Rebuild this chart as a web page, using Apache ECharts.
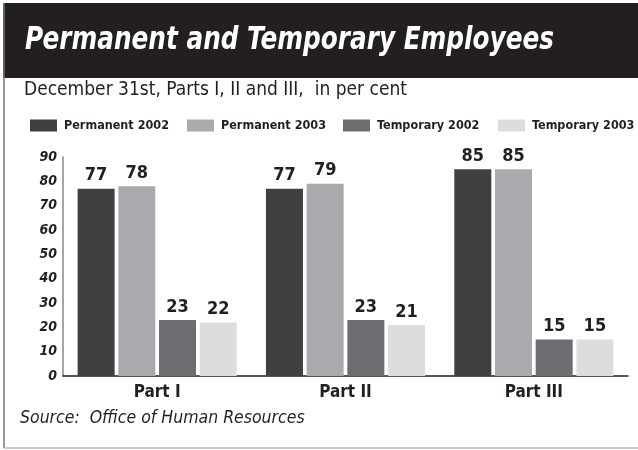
<!DOCTYPE html>
<html>
<head>
<meta charset="utf-8">
<script src="https://cdn.jsdelivr.net/npm/echarts@6/dist/echarts.min.js"></script>
<style>
  html, body { margin: 0; padding: 0; background: #fff; }
  #chart { width: 638px; height: 450px; }
</style>
</head>
<body>
<div id="chart"></div>
<script>
// data
const categories = ['Part I', 'Part II', 'Part III'];
const permanent2002 = [77, 77, 85];
const permanent2003 = [78, 79, 85];
const temporary2002 = [23, 23, 15];
const temporary2003 = [22, 21, 15];
const seriesNames = ['Permanent 2002', 'Permanent 2003', 'Temporary 2002', 'Temporary 2003'];
const yMin = 0, yMax = 90, yStep = 10;

const narrow = '"Liberation Sans Narrow", "DejaVu Sans Condensed", Arial, sans-serif';
const colors = ['#404040', '#a9aaad', '#6c6d71', '#dcdddf'];
const legendLefts = [30, 187, 343, 498];

const chart = echarts.init(document.getElementById('chart'));

const mkSeries = (name, data, i) => ({
  name: name,
  type: 'bar',
  data: data,
  barWidth: 37,
  barGap: '10%',
  itemStyle: { color: colors[i] },
  label: {
    show: true,
    position: 'top',
    distance: 4,
    color: '#231f20',
    fontFamily: narrow,
    fontWeight: 'bold',
    fontSize: 18
  }
});

// one legend per item so each swatch sits where the reference has it
const legends = seriesNames.map((name, i) => ({
  left: legendLefts[i],
  top: 119,
  itemWidth: 27,
  itemHeight: 12,
  icon: 'rect',
  padding: 0,
  data: [name],
  textStyle: { color: '#231f20', fontFamily: narrow, fontWeight: 'bold', fontSize: 12.5, padding: [0, 0, 0, 2] }
}));

chart.setOption({
  animation: false,
  color: colors,
  graphic: [
    { type: 'rect', shape: { x: 3, y: 3, width: 635, height: 75 }, style: { fill: '#231f20' }, z: -1 },
    { type: 'line', shape: { x1: 4, y1: 3, x2: 4, y2: 448 }, style: { stroke: '#777', lineWidth: 1.5 } },
    { type: 'line', shape: { x1: 4, y1: 448, x2: 638, y2: 448 }, style: { stroke: '#bbb', lineWidth: 1.5 } },
    {
      type: 'text', x: 25, y: 25, scaleX: 0.86,
      style: { text: 'Permanent and Temporary Employees', fill: '#fff', font: 'italic bold 32px ' + narrow }
    },
    {
      type: 'text', x: 24, y: 81,
      style: { text: 'December 31st, Parts I, II and III,  in per cent', fill: '#231f20', font: '19px ' + narrow }
    },
    {
      type: 'text', x: 20, y: 409,
      style: { text: 'Source:  Office of Human Resources', fill: '#231f20', font: 'italic 17.5px ' + narrow }
    }
  ],
  legend: legends,
  grid: { left: 63, right: 10, top: 157, bottom: 74, containLabel: false },
  xAxis: {
    type: 'category',
    data: categories,
    axisLine: { lineStyle: { color: '#231f20', width: 1.5 } },
    axisTick: { show: false },
    axisLabel: { color: '#231f20', fontFamily: narrow, fontWeight: 'bold', fontSize: 17, margin: 8 }
  },
  yAxis: {
    type: 'value',
    min: yMin,
    max: yMax,
    interval: yStep,
    axisLine: { show: true, lineStyle: { color: '#888', width: 1.5 } },
    axisTick: { show: false },
    splitLine: { show: false },
    axisLabel: { color: '#231f20', fontFamily: narrow, fontWeight: 'bold', fontStyle: 'italic', fontSize: 14, margin: 6 }
  },
  series: [
    mkSeries(seriesNames[0], permanent2002, 0),
    mkSeries(seriesNames[1], permanent2003, 1),
    mkSeries(seriesNames[2], temporary2002, 2),
    mkSeries(seriesNames[3], temporary2003, 3)
  ]
});
</script>
</body>
</html>
